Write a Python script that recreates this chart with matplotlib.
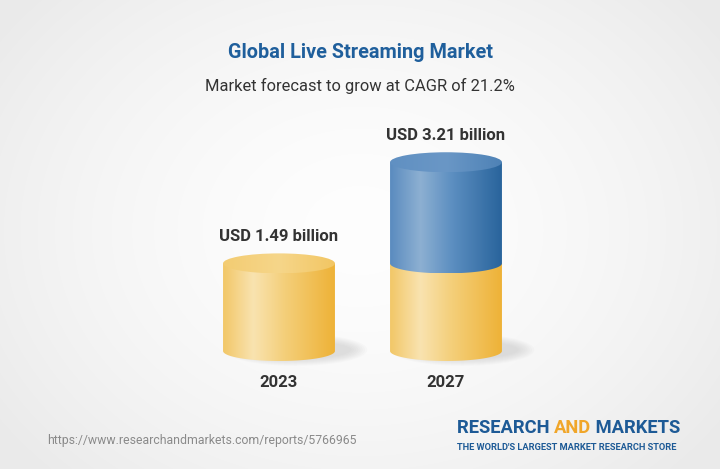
import numpy as np
import matplotlib.pyplot as plt
from matplotlib.path import Path
from matplotlib.patches import PathPatch, Ellipse
from matplotlib.colors import LinearSegmentedColormap

plt.rcParams['font.family'] = ['Roboto', 'DejaVu Sans']

years = ['2023', '2027']
values = [1.49, 3.21]
labels = ['USD 1.49 billion', 'USD 3.21 billion']
title = 'Global Live Streaming Market'
subtitle = 'Market forecast to grow at CAGR of 21.2%'
url = 'https://www.researchandmarkets.com/reports/5766965'

W, H = 720, 469
fig = plt.figure(figsize=(W / 100, H / 100), dpi=100)

# background
bg = fig.add_axes([0, 0, 1, 1])
yy, xx = np.mgrid[0:H, 0:W]
r = np.sqrt(((xx - 360) / 420.0) ** 2 + ((yy - 230) / 330.0) ** 2)
shade = np.clip(0.995 - 0.07 * r ** 1.6, 0.92, 1)
bg.imshow(np.dstack([shade] * 3), extent=(0, W, H, 0), aspect='auto')
bg.set_xlim(0, W)
bg.set_ylim(H, 0)
bg.axis('off')

# chart axes: value scale, ~58.8 px per billion, zero at y=351px
ppb = 58.8
ymin, ymax = -1.0, 5.0
ax = fig.add_axes([28.5 / W, (H - 351 + ymin * ppb) / H, 668 / W, (ymax - ymin) * ppb / H])
ax.axis('off')

bw = 0.67
eh = 10 / ppb  # ellipse half-height in value units

yel = LinearSegmentedColormap.from_list('y', [(0, '#f2c767'), (0.27, '#f9e3b0'), (0.55, '#f4cf7a'), (1, '#eeb237')])
blu = LinearSegmentedColormap.from_list('b', [(0, '#5a8bbf'), (0.27, '#8db0d2'), (0.55, '#5d8fc1'), (1, '#29649c')])
yel_top = LinearSegmentedColormap.from_list('yt', ['#f3cc72', '#f6d68a', '#f2c663'])
blu_top = LinearSegmentedColormap.from_list('bt', ['#6090c2', '#6a97c6', '#4e82b6'])
grad = np.linspace(0, 1, 256).reshape(1, -1)


def body(cx, y0, y1, cmap):
    t = np.linspace(np.pi, 2 * np.pi, 80)
    ex = cx + bw / 2 * np.cos(t)
    ey = y0 + eh * np.sin(t)
    verts = [(cx - bw / 2, y1)] + list(zip(ex, ey)) + [(cx + bw / 2, y1), (cx - bw / 2, y1)]
    codes = [Path.MOVETO] + [Path.LINETO] * (len(verts) - 2) + [Path.CLOSEPOLY]
    patch = PathPatch(Path(verts, codes), fc='none', ec='none')
    ax.add_patch(patch)
    im = ax.imshow(grad, cmap=cmap, extent=(cx - bw / 2, cx + bw / 2, y0 - eh, y1),
                   aspect='auto', zorder=2)
    im.set_clip_path(patch)


def top(cx, y, cmap):
    e = Ellipse((cx, y), bw, 2 * eh, fc='none', ec='none')
    ax.add_patch(e)
    im = ax.imshow(grad, cmap=cmap, extent=(cx - bw / 2, cx + bw / 2, y - eh, y + eh),
                   aspect='auto', zorder=3)
    im.set_clip_path(e)


for i, v in enumerate(values):
    # soft shadow, thrown to the right
    for k in range(8):
        ax.add_patch(Ellipse((i + 0.1, 0.02), bw * (1.0 + 0.04 * k), 2 * eh * (0.9 + 0.1 * k),
                             fc='#8a8a8a', ec='none', alpha=0.03, zorder=1))
    body(i, 0, values[0], yel)
    if i == 0:
        top(i, v, yel_top)
    else:
        body(i, values[0], v, blu)
        top(i, v, blu_top)
    ax.text(i, v + eh + 17 / ppb, labels[i], ha='center', va='center', fontsize=12,
            fontweight='bold', color='#333333', zorder=4)
    ax.text(i, -31 / ppb, years[i], ha='center', va='center', fontsize=12,
            fontweight='bold', color='#333333', zorder=4)

ax.set_xlim(-1.5, 2.5)
ax.set_ylim(ymin, ymax)

fig.text(0.5, 1 - 52 / H, title, ha='center', va='center', fontsize=14.3,
         fontweight='bold', color='#1f5f9c')
fig.text(0.5, 1 - 86 / H, subtitle, ha='center', va='center', fontsize=11.9, color='#333333')
fig.text(47 / W, 1 - 440 / H, url, ha='left', va='center', fontsize=8.8, color='#8a8a8a')

# logo
t1 = fig.text(457 / W, 1 - 433 / H, 'RESEARCH ', ha='left', va='baseline', fontsize=13.2,
              fontweight='bold', color='#1d5a96')
t2 = bg.annotate('AND', xy=(1, 0), xycoords=t1, ha='left', va='bottom', fontsize=13.2,
                 fontweight='bold', color='#f0a62a')
t3 = bg.annotate(' MARKETS', xy=(1, 0), xycoords=t2, ha='left', va='bottom', fontsize=13.2,
                 fontweight='bold', color='#1d5a96')
fig.text(457 / W, 1 - 447 / H, "THE WORLD'S LARGEST MARKET RESEARCH STORE", ha='left',
         va='center', fontsize=6.7, fontweight='bold', color='#1d5a96')

fig.savefig('out.png', dpi=100)
